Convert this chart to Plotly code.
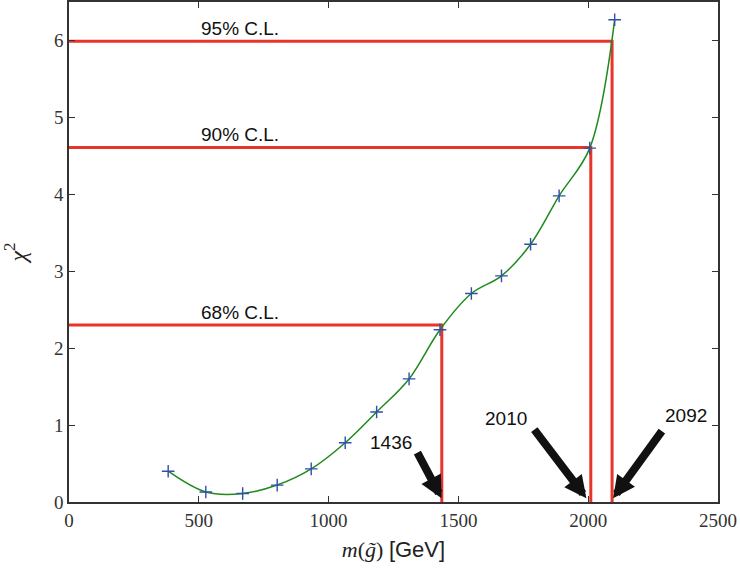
import plotly.graph_objects as go

# data
mass = [382, 527, 669, 802, 933, 1064, 1185, 1310, 1429, 1550, 1666, 1778, 1888, 2006, 2102]
chi2 = [0.40, 0.13, 0.11, 0.22, 0.43, 0.77, 1.17, 1.60, 2.24, 2.71, 2.94, 3.35, 3.98, 4.60, 6.27]
cl_names = ["68% C.L.", "90% C.L.", "95% C.L."]
cl_levels = [2.30, 4.61, 5.99]
cl_limits = [1436, 2010, 2092]
limit_labels = ["1436", "2010", "2092"]
# arrow geometry (tail x, tail y, tip x, label x, label y)
arrow_tail_x = [1339, 1788, 2288]
arrow_tail_y = [0.66, 0.96, 0.94]
arrow_tip_x = [1435, 1993, 2096]
label_x = [1240, 1685, 2378]
label_y = [0.78, 1.09, 1.12]

RED = "#e8342b"
fig = go.Figure()

for name, lev, lim in zip(cl_names, cl_levels, cl_limits):
    fig.add_trace(go.Scatter(x=[0, lim, lim], y=[lev, lev, 0], mode="lines",
                             line=dict(color=RED, width=3), hoverinfo="skip",
                             showlegend=False, cliponaxis=False))
    fig.add_annotation(x=660, y=lev, text=name, showarrow=False, yanchor="bottom",
                       yshift=0, font=dict(family="Liberation Sans, Arial", size=19, color="#111"))

fig.add_trace(go.Scatter(x=mass, y=chi2, mode="lines", line=dict(color="#1e8a1e", width=1.5, shape="spline", smoothing=1.0),
                         showlegend=False))
fig.add_trace(go.Scatter(x=mass, y=chi2, mode="markers",
                         marker=dict(symbol="cross-thin", size=9, line=dict(color="#2f4fa8", width=1.4)),
                         showlegend=False, cliponaxis=False))

for tx, ty, hx, lab, lx, ly in zip(arrow_tail_x, arrow_tail_y, arrow_tip_x, limit_labels, label_x, label_y):
    fig.add_annotation(x=hx, y=0.05, ax=tx, ay=ty, axref="x", ayref="y", xref="x", yref="y",
                       text="", showarrow=True, arrowhead=2, arrowsize=0.55, arrowwidth=8,
                       arrowcolor="#111", standoff=0)
    fig.add_annotation(x=lx, y=ly, text=lab, showarrow=False,
                       font=dict(family="Liberation Sans, Arial", size=19, color="#111"))

axis_common = dict(showgrid=False, zeroline=False, showline=True, linecolor="#333", linewidth=1.5,
                   mirror="ticks", ticks="inside", ticklen=6, tickcolor="#333", automargin=False,
                   tickfont=dict(family="Liberation Serif, DejaVu Serif", size=19, color="#333"))

fig.update_layout(
    width=740, height=575, paper_bgcolor="white", plot_bgcolor="white",
    margin=dict(l=69, r=22, t=2, b=73),
    xaxis=dict(range=[0, 2500], tickvals=[0, 500, 1000, 1500, 2000, 2500], **axis_common,
               title=dict(text='<i>m</i>(<i>g̃</i>) <span style="font-family:Liberation Sans, Arial">[GeV]</span>',
                          font=dict(family="Liberation Serif, DejaVu Serif", size=22, color="#222"), standoff=12)),
    yaxis=dict(range=[0, 6.5], tickvals=[0, 1, 2, 3, 4, 5, 6], **axis_common,
               title=dict(text="<i>χ</i><sup>2</sup>", font=dict(family="Liberation Serif, DejaVu Serif", size=24, color="#222"),
                          standoff=21)),
)

fig.write_html("out.html", config={"displayModeBar": False},
               post_script="document.body.style.margin='0px';document.body.style.overflow='hidden';")
